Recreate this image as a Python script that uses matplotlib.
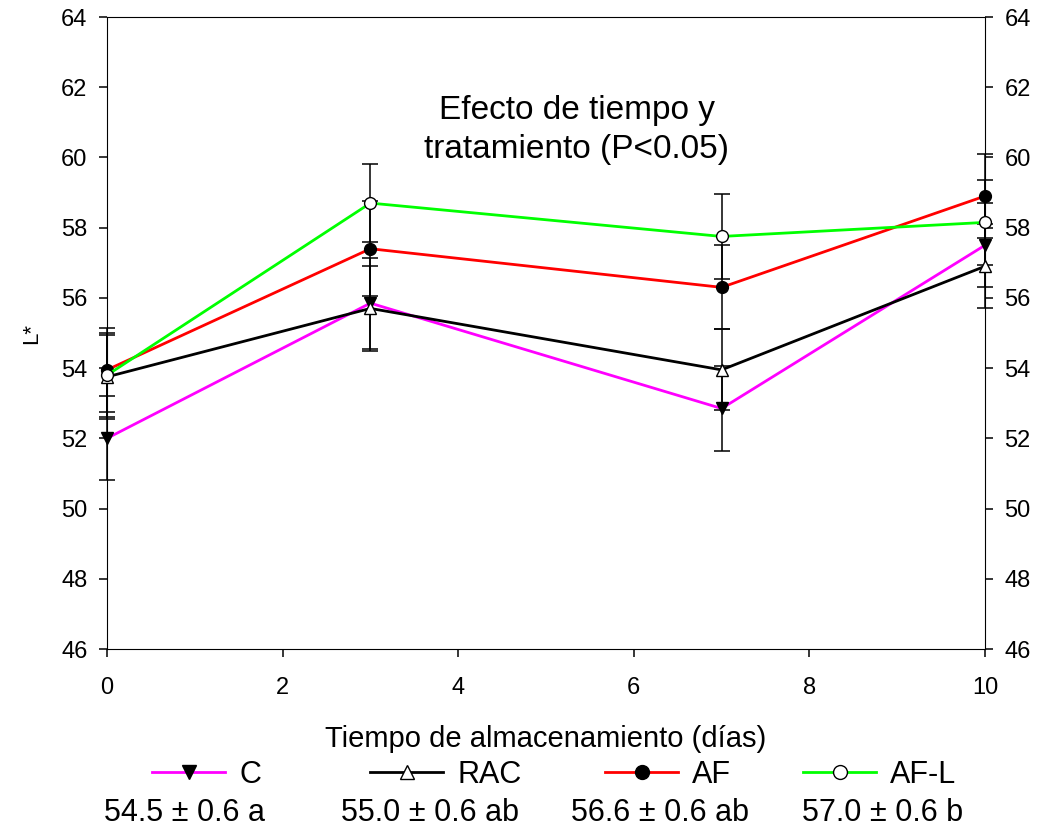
import matplotlib.pyplot as plt
from matplotlib.lines import Line2D

plt.rcParams['font.family'] = ['Liberation Sans', 'DejaVu Sans']

# storage time (days) and L* means / standard errors per treatment
dias = [0, 3, 7, 10]
tratamientos = ['C', 'RAC', 'AF', 'AF-L']
l_c = [52.0, 55.85, 52.85, 57.5]
l_rac = [53.75, 55.7, 53.95, 56.9]
l_af = [53.95, 57.4, 56.3, 58.9]
l_afl = [53.8, 58.7, 57.75, 58.15]
err_c = [1.2, 1.3, 1.2, 1.2]
err_rac = [1.2, 1.2, 1.15, 1.2]
err_af = [1.2, 1.35, 1.2, 1.2]
err_afl = [1.2, 1.1, 1.2, 1.2]
resumen = ['54.5 \u00b1 0.6 a', '55.0 \u00b1 0.6 ab', '56.6 \u00b1 0.6 ab', '57.0 \u00b1 0.6 b']

series = [
    (l_c, err_c, '#ff00ff', 'v', 'black'),
    (l_rac, err_rac, 'black', '^', 'white'),
    (l_af, err_af, '#ff0000', 'o', 'black'),
    (l_afl, err_afl, '#00ff00', 'o', 'white'),
]

W, H = 1037, 838
fig = plt.figure(figsize=(W / 100, H / 100), dpi=100)
ax = fig.add_axes([107 / W, 1 - 649 / H, 878 / W, 632 / H])

handles = []
for (vals, errs, color, marker, face), name in zip(series, tratamientos):
    eb = ax.errorbar(dias, vals, yerr=errs, fmt='none', ecolor='black',
                     elinewidth=1.1, capsize=6, capthick=1.1, zorder=2)
    for art in eb.get_children():
        art.set_clip_on(False)
    h, = ax.plot(dias, vals, color=color, lw=2, marker=marker, markersize=8.5,
                 markerfacecolor=face, markeredgecolor='black', label=name,
                 zorder=3, clip_on=False)
    handles.append(h)

ax.set_xlim(0, 10)
ax.set_ylim(46, 64)
ax.set_xticks(range(0, 11, 2))
ax.set_yticks(range(46, 65, 2))
ax.tick_params(axis='both', direction='out', length=6, width=1.1, labelsize=17,
               pad=8, right=True, labelright=True)
ax.tick_params(axis='x', pad=14)
ax.set_xlabel('Tiempo de almacenamiento (días)', fontsize=21, labelpad=19)
ax.set_ylabel('L*', fontsize=16, labelpad=14)

ax.text(5.35, 60.78, 'Efecto de tiempo y\ntratamiento (P<0.05)', ha='center',
        va='center', fontsize=24, linespacing=1.3)

# one legend per treatment so each entry sits in its own column
for h, x0 in zip(handles, [152, 370, 605, 803]):
    proxy = Line2D([], [], color=h.get_color(), lw=2, marker=h.get_marker(),
                   markersize=10, markerfacecolor=h.get_markerfacecolor(),
                   markeredgecolor='black')
    fig.legend([proxy], [h.get_label()], loc='center left',
               bbox_to_anchor=(x0 / W, 1 - 775 / H), frameon=False, fontsize=22,
               handlelength=2.4, handletextpad=0.45, borderpad=0,
               borderaxespad=0)

for xpx, txt in zip([185, 430, 660, 883], resumen):
    fig.text(xpx / W, 1 - 813 / H, txt, ha='center', va='center', fontsize=22)

fig.savefig('out.png', dpi=100)
